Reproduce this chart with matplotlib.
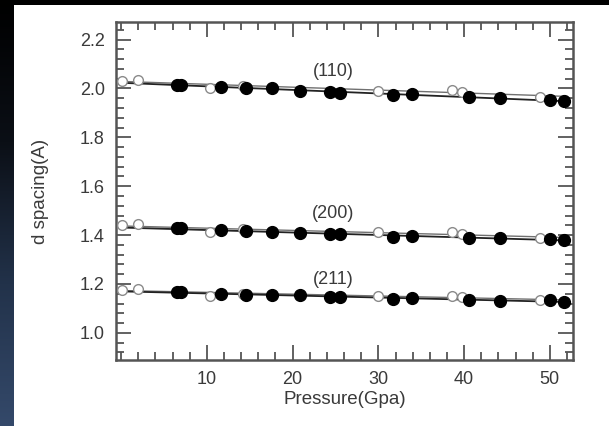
import numpy as np
import matplotlib
matplotlib.use("Agg")
import matplotlib.pyplot as plt
from matplotlib.ticker import MultipleLocator, FixedLocator
from matplotlib.colors import LinearSegmentedColormap

plt.rcParams['font.family'] = ['Liberation Sans', 'DejaVu Sans']

# ---- data ----
pressure_filled = [6.5, 7.0, 11.7, 14.6, 17.6, 20.9, 24.4, 25.5, 31.7, 33.9, 40.6, 44.2, 50.0, 51.7]
pressure_open = [0.1, 2.0, 10.4, 14.2, 30.0, 38.6, 39.8, 48.9]

d110_filled = [2.016, 2.016, 2.007, 2.003, 2.000, 1.988, 1.984, 1.981, 1.974, 1.977, 1.964, 1.961, 1.954, 1.947]
d110_open = [2.032, 2.036, 2.000, 2.011, 1.991, 1.994, 1.984, 1.966]

d200_filled = [1.428, 1.428, 1.420, 1.416, 1.411, 1.407, 1.403, 1.403, 1.392, 1.398, 1.389, 1.388, 1.386, 1.378]
d200_open = [1.440, 1.445, 1.411, 1.423, 1.412, 1.411, 1.403, 1.387]

d211_filled = [1.169, 1.169, 1.160, 1.153, 1.153, 1.153, 1.146, 1.146, 1.137, 1.144, 1.135, 1.132, 1.136, 1.125]
d211_open = [1.177, 1.181, 1.150, 1.160, 1.150, 1.150, 1.146, 1.135]

labels = ["(110)", "(200)", "(211)"]
label_x = [24.7, 24.7, 24.7]
label_y = [2.068, 1.490, 1.219]

x_ticks = [10, 20, 30, 40, 50]
y_ticks = [1.0, 1.2, 1.4, 1.6, 1.8, 2.0, 2.2]

# ---- figure ----
W, H = 609, 426
fig = plt.figure(figsize=(W / 100, H / 100), dpi=100, facecolor='black')

panel = fig.add_axes([14 / W, 0, 1 - 14 / W, (H - 5) / H])
panel.set_facecolor('white')
panel.set_xticks([]); panel.set_yticks([])
for s in panel.spines.values():
    s.set_visible(False)

strip = fig.add_axes([0, 0, 14 / W, 1])
cmap = LinearSegmentedColormap.from_list('g', ['#000000', '#0b0f16', '#22324a', '#34496a'])
grad = np.linspace(0, 1, 256).reshape(-1, 1)
strip.imshow(grad, aspect='auto', cmap=cmap, extent=[0, 1, 0, 1], origin='upper')
strip.set_axis_off()

ax = fig.add_axes([116 / W, 1 - 360 / H, (573 - 116) / W, (360 - 22) / H])
ax.set_facecolor('none')

fc = '#555555'
tc = '#3a3a3a'

xfit = np.array([0.0, 52.0])
series = [(d110_filled, d110_open), (d200_filled, d200_open), (d211_filled, d211_open)]
for filled, opened in series:
    po = np.polyfit(pressure_open, opened, 1)
    pf = np.polyfit(pressure_filled, filled, 1)
    ax.plot(xfit, np.polyval(po, xfit), '-', color='#707070', lw=1.0, zorder=2)
    ax.plot(xfit, np.polyval(pf, xfit), '-', color='#222222', lw=1.3, zorder=3)
    ax.plot(pressure_open, opened, 'o', ms=7, mfc='white', mec='#8a8a8a', mew=1.0, zorder=4, clip_on=False)
    ax.plot(pressure_filled, filled, 'o', ms=8.5, color='black', zorder=5, clip_on=False)

for t, x, y in zip(labels, label_x, label_y):
    ax.text(x, y, t, ha='center', va='center', fontsize=13, color=tc)

ax.set_xlim(-0.6, 52.7)
ax.set_ylim(0.889, 2.272)

ax.xaxis.set_major_locator(FixedLocator(x_ticks))
ax.xaxis.set_minor_locator(MultipleLocator(2))
ax.yaxis.set_major_locator(FixedLocator(y_ticks))
ax.yaxis.set_minor_locator(MultipleLocator(0.04))
ax.set_yticklabels([f"{v:.1f}" for v in y_ticks])

ax.tick_params(which='both', direction='in', top=True, right=True, color=fc, width=1.3,
               labelsize=13, labelcolor=tc)
ax.tick_params(which='major', length=11, pad=8)
ax.tick_params(which='minor', length=6)

for s in ax.spines.values():
    s.set_color(fc)
    s.set_linewidth(1.8)

ax.set_xlabel('Pressure(Gpa)', fontsize=13.5, color=tc, labelpad=2)
ax.set_ylabel('d spacing(A)', fontsize=13.5, color=tc, labelpad=22)

fig.savefig('out.png', dpi=100, facecolor='black')
